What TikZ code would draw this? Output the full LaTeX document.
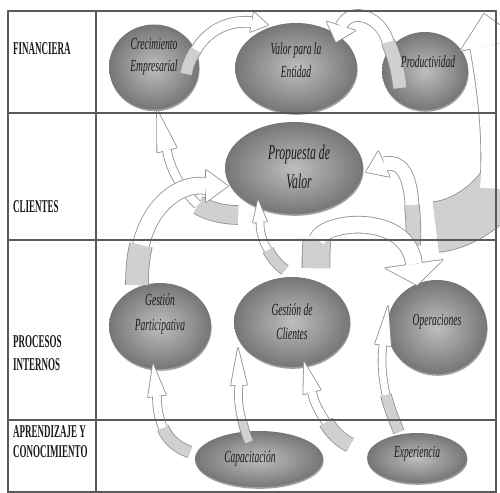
\documentclass[tikz,border=0pt]{standalone}
\usepackage{fontspec}
\setmainfont{Liberation Serif}
\newfontfamily\rowfont[FakeStretch=0.5]{Liberation Serif}
\newfontfamily\elfont[FakeStretch=0.56]{Liberation Serif}
\usetikzlibrary{calc,shadows,shapes.geometric}
\definecolor{tline}{HTML}{5A5A5A}
\definecolor{aline}{HTML}{8E8E8E}
\definecolor{atail}{HTML}{D0D0D0}
\definecolor{elin}{HTML}{BEBEBE}
\definecolor{elout}{HTML}{767676}
\definecolor{txt}{HTML}{1A1A1A}
\tikzset{
  ell/.style={ellipse, inner sep=0pt, shading=radial, inner color=elin, outer color=elout,
    drop shadow={shadow xshift=0.6pt, shadow yshift=-1.8pt, fill=black!75}},
  rowlab/.style={anchor=base west, inner sep=0pt, font=\rowfont\bfseries\fontsize{18}{18}\selectfont, text=txt},
  ellab/.style={anchor=base, inner sep=0pt, font=\elfont\itshape\fontsize{17}{17}\selectfont, text=txt},
  biglab/.style={ellab, font=\elfont\itshape\fontsize{21}{21}\selectfont},
  tab/.style={draw=tline, line width=1.1pt}
}
% #1 main width, #2 main path, #3 head base, #4 tip, #5 head half width, #6 tail width, #7 tail path
\newcommand\blockarrow[7]{%
  \draw[aline, line width=#6+1.6pt] #7;
  \draw[aline, line width=#1+1.6pt] #2;
  \filldraw[aline, line width=1.6pt, line join=round] ($(#3)!#5!90:(#4)$) -- (#4) -- ($(#3)!#5!-90:(#4)$) -- cycle;
  \draw[atail, line width=#6] #7;
  \draw[white, line width=#1] #2;
  \fill[white] ($(#3)!#5!90:(#4)$) -- (#4) -- ($(#3)!#5!-90:(#4)$) -- cycle;
}
\begin{document}
\begin{tikzpicture}[x=1pt,y=-1pt]
\useasboundingbox (0,0) rectangle (500,492);
\fill[white] (0,0) rectangle (500,492);

% ellipses
\node[ell, minimum width=90, minimum height=85] (crec) at (154,67) {};
\node[ell, minimum width=122, minimum height=90] (valor) at (296,68) {};
\node[ell, minimum width=86, minimum height=78] (prod) at (425,71) {};
\node[ell, minimum width=138, minimum height=92] (prop) at (294,168) {};
\node[ell, minimum width=102, minimum height=86] (gp) at (160,326) {};
\node[ell, minimum width=116, minimum height=90] (gc) at (292,322) {};
\node[ell, minimum width=100, minimum height=94] (oper) at (437,327) {};
\node[ell, minimum width=128, minimum height=56] (cap) at (259,459) {};
\node[ell, minimum width=100, minimum height=50] (exp) at (417,458) {};

% arrows
% Crecimiento -> Valor
\blockarrow{10pt}{(196,50) .. controls (208,30) and (228,20) .. (252,22)}{252,22}{268,25}{10pt}{11pt}{(186,74) .. controls (188,64) and (191,57) .. (196,50)}
% Productividad -> Valor
\blockarrow{11pt}{(388,42) .. controls (382,18) and (352,5) .. (341,26)}{341,26}{336,42}{15pt}{13pt}{(400,88) .. controls (398,70) and (394,55) .. (388,42)}
% big right arrow (toward Productividad)
\blockarrow{40pt}{(500,189) .. controls (504,140) and (498,90) .. (490,45)}{490,45}{484,14}{30pt}{50pt}{(436,227) .. controls (458,225) and (484,210) .. (500,189)}
% -> Propuesta right
\blockarrow{13pt}{(412,205) .. controls (410,172) and (400,160) .. (384,164)}{384,164}{366,172}{14pt}{14pt}{(413,245) .. controls (414,232) and (413,218) .. (412,205)}
% Gestion de clientes -> Operaciones
\blockarrow{16pt}{(317,240) .. controls (324,220) and (408,212) .. (414,264)}{414,264}{417,285}{29pt}{27pt}{(316,268) .. controls (316,258) and (316,250) .. (317,240)}
% Propuesta -> Crecimiento
\blockarrow{8pt}{(198,205) .. controls (182,190) and (170,170) .. (167,150)}{167,150}{157,110}{10pt}{18pt}{(238,215) .. controls (225,215) and (210,212) .. (198,205)}
% Gestion participativa -> Propuesta
\blockarrow{16pt}{(141,245) .. controls (150,205) and (180,182) .. (206,186)}{206,186}{228,186}{16pt}{22pt}{(137,285) .. controls (137,270) and (138,258) .. (141,245)}
% Gestion clientes -> Propuesta
\blockarrow{7pt}{(268,250) .. controls (262,240) and (260,232) .. (260,222)}{260,222}{258,200}{7pt}{10pt}{(285,270) .. controls (278,265) and (272,258) .. (268,250)}
% Capacitacion -> Gestion participativa
\blockarrow{8pt}{(163,428) .. controls (158,415) and (157,408) .. (157,396)}{157,396}{153,364}{9pt}{11pt}{(190,452) .. controls (178,448) and (168,440) .. (163,428)}
% Capacitacion -> Gestion clientes (left)
\blockarrow{7pt}{(242,420) .. controls (238,405) and (238,395) .. (239,385)}{239,385}{238,348}{8pt}{8pt}{(249,442) .. controls (246,435) and (244,428) .. (242,420)}
% Capacitacion -> Gestion clientes (right)
\blockarrow{8pt}{(326,422) .. controls (318,410) and (314,402) .. (312,392)}{312,392}{304,362}{9pt}{14pt}{(350,445) .. controls (340,440) and (332,432) .. (326,422)}
% Experiencia -> Operaciones
\blockarrow{7pt}{(386,395) .. controls (382,375) and (381,360) .. (383,345)}{383,345}{388,306}{8pt}{10pt}{(399,432) .. controls (394,420) and (389,408) .. (386,395)}

% table
\draw[tab] (8,11) rectangle (496,492);
\draw[tab] (96,11) -- (96,492);
\draw[tab] (8,113) -- (496,113);
\draw[tab] (8,240) -- (496,240);
\draw[tab] (8,420) -- (496,420);

% row labels
\node[rowlab] (l1) at (13,55) {FINANCIERA};
\node[rowlab] (l2) at (13,212) {CLIENTES};
\node[rowlab] (l3) at (13,347) {PROCESOS};
\node[rowlab] (l4) at (13,370) {INTERNOS};
\node[rowlab] (l5) at (13,437) {APRENDIZAJE Y};
\node[rowlab] (l6) at (13,457) {CONOCIMIENTO};

% ellipse labels
\node[ellab] (t1) at (154,50) {Crecimiento};
\node[ellab] (t2) at (154,72) {Empresarial};
\node[ellab] (t3) at (296,55) {Valor para la};
\node[ellab] (t4) at (296,78) {Entidad};
\node[ellab] (t5) at (428,68) {Productividad};
\node[biglab] (t6) at (299,159) {Propuesta de};
\node[biglab] (t7) at (299,188) {Valor};
\node[ellab] (t8) at (160,305) {Gestión};
\node[ellab] (t9) at (160,330) {Participativa};
\node[ellab] (t10) at (292,315) {Gestión de};
\node[ellab] (t11) at (292,339) {Clientes};
\node[ellab] (t12) at (437,325) {Operaciones};
\node[ellab] (t13) at (250,462) {Capacitación};
\node[ellab] (t14) at (417,457) {Experiencia};
\end{tikzpicture}
\end{document}
